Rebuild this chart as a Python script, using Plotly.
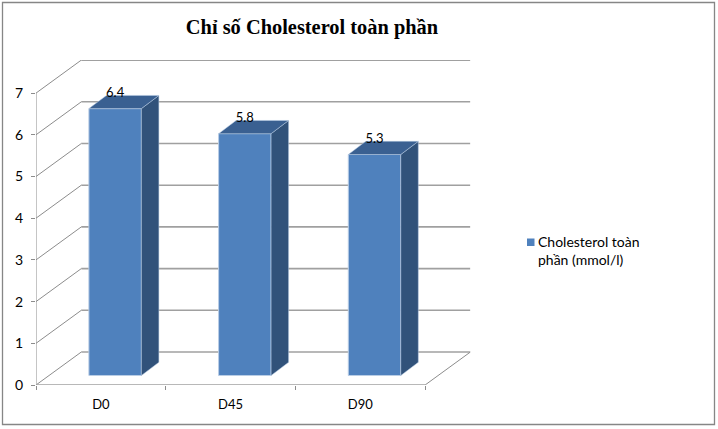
import plotly.graph_objects as go

# ---- data ----
categories = ["D0", "D45", "D90"]
values = [6.4, 5.8, 5.3]
data_labels = ["6.4", "5.8", "5.3"]
y_ticks = [0, 1, 2, 3, 4, 5, 6, 7]
series_name = "Cholesterol toàn<br>phần (mmol/l)"
title_text = "Chỉ số Cholesterol toàn phần"

# ---- pixel geometry of the picture ----
W, H = 718, 429
PX_LEFT, PX_BOTTOM = 36.0, 385.0      # front plane origin
PX_PER_CAT, PX_PER_UNIT = 129.7, 41.7
WALL_DX, WALL_DY = 45.3 / PX_PER_CAT, 33.0 / PX_PER_UNIT   # depth of the walls, data units
BAR_DX, BAR_DY = 17.5 / PX_PER_CAT, 13.2 / PX_PER_UNIT     # depth of each bar, data units
FRONT_DX, FRONT_DY = 14.3 / PX_PER_CAT, 9.5 / PX_PER_UNIT  # bar offset from front plane
BAR_W = 52.5 / PX_PER_CAT

n = len(categories)
x_max = n + WALL_DX
y_max = y_ticks[-1] + WALL_DY
px_right = PX_LEFT + x_max * PX_PER_CAT
px_top = PX_BOTTOM - y_max * PX_PER_UNIT

centers = [i + 0.5 + FRONT_DX for i in range(n)]

FRONT, SIDE, TOP = "#4F81BD", "#31527A", "#3A6091"
EDGE = "#B9CDE5"
GRID = "#A0A0A0"
AXIS = "#8C8C8C"
TEXT = "#000000"
SANS = "Lato, 'Open Sans', sans-serif"

fig = go.Figure()

# front faces
fig.add_trace(go.Bar(
    x=centers, y=values, base=[FRONT_DY] * n, width=[BAR_W] * n,
    marker=dict(color=FRONT, line=dict(color=EDGE, width=1)),
    name=series_name, showlegend=False, hoverinfo="skip",
))

# side and top faces
for c, v in zip(centers, values):
    x0, x1 = c - BAR_W / 2, c + BAR_W / 2
    top = v + FRONT_DY
    fig.add_trace(go.Scatter(
        x=[x1, x1 + BAR_DX, x1 + BAR_DX, x1, x1],
        y=[FRONT_DY, FRONT_DY + BAR_DY, top + BAR_DY, top, FRONT_DY],
        mode="lines", fill="toself", fillcolor=SIDE,
        line=dict(color=EDGE, width=0.5), showlegend=False, hoverinfo="skip",
    ))
    fig.add_trace(go.Scatter(
        x=[x0, x1, x1 + BAR_DX, x0 + BAR_DX, x0],
        y=[top, top, top + BAR_DY, top + BAR_DY, top],
        mode="lines", fill="toself", fillcolor=TOP,
        line=dict(color=EDGE, width=0.5), showlegend=False, hoverinfo="skip",
    ))

# data labels
fig.add_trace(go.Scatter(
    x=centers, y=[v + FRONT_DY + 15.0 / PX_PER_UNIT for v in values],
    mode="text", text=data_labels, textposition="middle center",
    textfont=dict(family=SANS, size=13, color=TEXT),
    showlegend=False, hoverinfo="skip", cliponaxis=False,
))

# walls and floor, below the bars
shapes = []
for t in y_ticks:
    shapes.append(dict(type="line", xref="x", yref="y", layer="below",
                       x0=WALL_DX, x1=x_max, y0=t + WALL_DY, y1=t + WALL_DY,
                       line=dict(color=GRID, width=1.6)))
    shapes.append(dict(type="line", xref="x", yref="y", layer="below",
                       x0=0, x1=WALL_DX, y0=t, y1=t + WALL_DY,
                       line=dict(color=AXIS, width=1)))
shapes.append(dict(type="line", xref="x", yref="y", layer="below",
                   x0=n, x1=x_max, y0=0, y1=WALL_DY, line=dict(color=AXIS, width=1)))
shapes.append(dict(type="line", xref="x", yref="y", layer="below",
                   x0=0, x1=0, y0=0, y1=y_ticks[-1], line=dict(color=AXIS, width=1)))
shapes.append(dict(type="line", xref="x", yref="y", layer="below",
                   x0=0, x1=n, y0=0, y1=0, line=dict(color=GRID, width=1.6)))
# outer frame of the chart
shapes.append(dict(type="rect", xref="paper", yref="paper",
                   x0=2.5 / W, x1=714.5 / W, y0=1 - 424.5 / H, y1=1 - 2.5 / H,
                   line=dict(color="#868686", width=1.3), fillcolor="rgba(0,0,0,0)"))
# legend swatch
shapes.append(dict(type="rect", xref="paper", yref="paper",
                   x0=527 / W, x1=534.5 / W, y0=1 - 246 / H, y1=1 - 238.5 / H,
                   line=dict(width=0), fillcolor=FRONT))

fig.update_layout(
    width=W, height=H,
    margin=dict(l=0, r=0, t=0, b=0),
    paper_bgcolor="white", plot_bgcolor="white",
    shapes=shapes,
    showlegend=False,
    annotations=[dict(text=series_name, xref="paper", yref="paper",
                      x=535.5 / W, y=1 - 250 / H, xanchor="left", yanchor="middle",
                      align="left", showarrow=False,
                      font=dict(family=SANS, size=14, color=TEXT))],
    title=dict(text="<b>" + title_text + "</b>", x=312 / W, xanchor="center",
               y=1 - 27 / H, yanchor="middle",
               font=dict(family="'Liberation Serif', serif", size=20.4, color=TEXT)),
    xaxis=dict(domain=[PX_LEFT / W, px_right / W], range=[0, x_max],
               tickmode="array", tickvals=[i + 0.5 for i in range(n)], ticktext=categories,
               ticks="", showline=False, showgrid=False, zeroline=False, automargin=False,
               ticklabelstandoff=10,
               tickfont=dict(family=SANS, size=13, color=TEXT),
               minor=dict(tick0=0, dtick=1, ticks="outside", ticklen=4, tickcolor=AXIS,
                          tickwidth=1, showgrid=False)),
    yaxis=dict(domain=[1 - PX_BOTTOM / H, 1 - px_top / H], range=[0, y_max],
               tickmode="array", tickvals=y_ticks, ticktext=[str(t) for t in y_ticks],
               ticks="outside", ticklen=4, tickcolor=AXIS, tickwidth=1,
               ticklabelstandoff=5,
               showline=False, showgrid=False, zeroline=False, automargin=False,
               tickfont=dict(family=SANS, size=14, color=TEXT)),
)

fig.write_html("out.html", config={"displayModeBar": False},
               post_script="document.body.style.margin='0';document.body.style.overflow='hidden';")
